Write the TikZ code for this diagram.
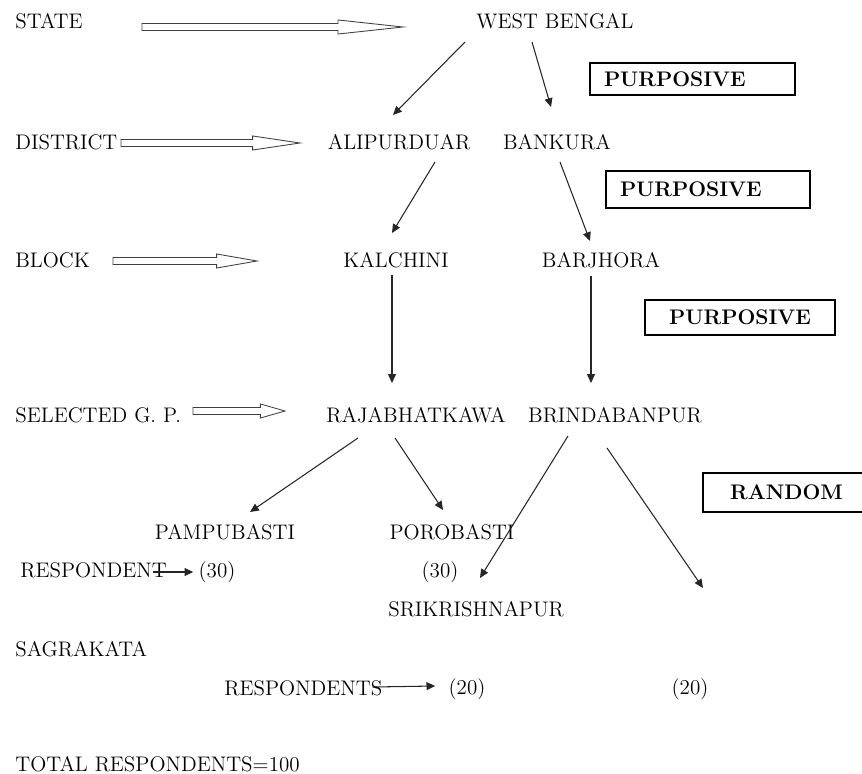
\documentclass[tikz,border=0pt]{standalone}
\usepackage{tikz}
\usetikzlibrary{arrows.meta,calc}
\begin{document}
\begin{tikzpicture}[
  x=0.02cm,y=-0.02cm,
  font=\fontsize{12}{14}\selectfont,
  lbl/.style={inner sep=0pt,anchor=base west},
  place/.style={inner sep=0pt,anchor=base},
  sbox/.style={draw,line width=0.7pt,anchor=north west,outer sep=0pt,font=\fontsize{12}{14}\selectfont\bfseries},
  arr/.style={-{Triangle[length=5pt,width=4.5pt]},line width=0.6pt,black!85},
  hollow/.style={draw,line width=0.5pt,black!75,to path={let \p1=(\tikztostart),\p2=(\tikztotarget) in
    (\x1,\y1+2pt) -- (\x2-#1,\y1+2pt) -- (\x2-#1,\y1+4pt) -- (\x2,\y1) -- (\x2-#1,\y1-4pt) -- (\x2-#1,\y1-2pt) -- (\x1,\y1-2pt) -- cycle}},
  hollow/.default=20pt
]
\useasboundingbox (0,0) rectangle (862,774);

\node[lbl] (state) at (15,29) {STATE};
\node[lbl] (district) at (15,149) {DISTRICT};
\node[lbl] (block) at (15,267) {BLOCK};
\node[lbl] (gp) at (15,422) {SELECTED G. P.};
\node[lbl] (resp) at (20,577) {RESPONDENT};
\node[lbl] (sagra) at (15,656) {SAGRAKATA};
\node[lbl] (resps) at (224,695) {RESPONDENTS};
\node[lbl] (total) at (15,771) {TOTAL RESPONDENTS=100};

\node[place] (wb) at (555,29) {WEST BENGAL};
\node[place] (ali) at (399,149) {ALIPURDUAR};
\node[place] (ban) at (557,149) {BANKURA};
\node[place] (kal) at (396,267) {KALCHINI};
\node[place] (bar) at (601,267) {BARJHORA};
\node[place] (raj) at (416,422) {RAJABHATKAWA};
\node[place] (bri) at (615,422) {BRINDABANPUR};
\node[place] (pam) at (225,539) {PAMPUBASTI};
\node[place] (por) at (452,539) {POROBASTI};
\node[place] (pam30) at (217,577) {(30)};
\node[place] (por30) at (440,577) {(30)};
\node[place] (sri) at (476,616) {SRIKRISHNAPUR};
\node[place] (sri20) at (467,694) {(20)};
\node[place] (sag20) at (690,694) {(20)};

\node[sbox,minimum width=4.1cm,minimum height=0.64cm,text width=3.54cm,inner xsep=0.28cm,align=left] (p1) at (590,63) {PURPOSIVE};
\node[sbox,minimum width=4.08cm,minimum height=0.74cm,text width=3.52cm,inner xsep=0.28cm,align=left] (p2) at (606,171) {PURPOSIVE};
\node[sbox,minimum width=3.8cm,minimum height=0.7cm] (p3) at (645,300) {PURPOSIVE};
\node[sbox,minimum width=3.34cm,minimum height=0.78cm] (rnd) at (703,473) {RANDOM};

\draw[hollow=37pt] ($(state.base west)+(127,-2)$) to ($(state.base west)+(388,-2)$);
\draw[hollow=27pt] ($(district.base west)+(106,-6)$) to ($(district.base west)+(285,-6)$);
\draw[hollow=23pt] ($(block.base west)+(98,-6)$) to ($(block.base west)+(242,-6)$);
\draw[hollow=14pt] ($(gp.base west)+(178,-11)$) to ($(gp.base west)+(270,-11)$);

\draw[arr] ($(wb.base)+(-90,13)$) -- ($(ali.base)+(-6,-34)$);
\draw[arr] ($(wb.base)+(-23,13)$) -- ($(ban.base)+(-6,-42)$);
\draw[arr] ($(ali.base)+(36,13)$) -- ($(kal.base)+(-4,-34)$);
\draw[arr] ($(ban.base)+(3,13)$) -- ($(bar.base)+(-11,-26)$);
\draw[arr] ($(kal.base)+(-4,8)$) -- ($(raj.base)+(-24,-39)$);
\draw[arr] ($(bar.base)+(-10,9)$) -- ($(bri.base)+(-24,-39)$);
\draw[arr] ($(raj.base)+(-58,16)$) -- ($(pam.base)+(25,-27)$);
\draw[arr] ($(raj.base)+(-21,16)$) -- ($(por.base)+(-9,-29)$);
\draw[arr] ($(bri.base)+(-47,14)$) -- ($(sri.base)+(4,-38)$);
\draw[arr] ($(bri.base)+(-8,26)$) -- ($(sag20.base)+(13,-106)$);

\draw[arr] ($(resp.base east)+(-14,-5)$) -- ($(pam30.base west)+(-5,-5)$);
\draw[arr] ($(resps.base east)+(-10,-8)$) -- ($(sri20.base west)+(-13,-8)$);
\end{tikzpicture}
\end{document}
